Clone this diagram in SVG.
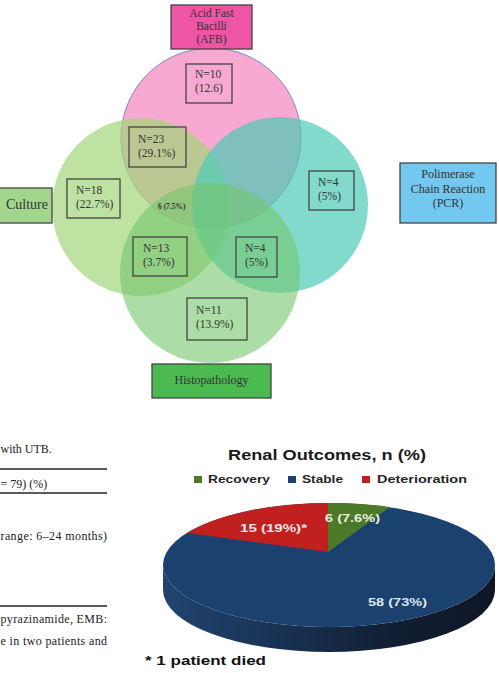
<svg xmlns="http://www.w3.org/2000/svg" width="499" height="673" viewBox="0 0 499 673">
<defs>
<style>
.vt{font-family:"Liberation Serif","Times New Roman",serif;font-size:11.5px;fill:#333;}
.box{fill:none;stroke:#444;stroke-width:1.3;}
.lbl{stroke:#444;stroke-width:1.3;}
.tt{font-family:"Liberation Serif","Times New Roman",serif;font-size:12px;fill:#222;}
.ps{font-family:"Liberation Sans",Arial,sans-serif;font-weight:bold;}
.rule{stroke:#222;stroke-width:1.3;}
</style>
<linearGradient id="side" x1="0" y1="0" x2="1" y2="0">
<stop offset="0" stop-color="#21446f"/>
<stop offset="0.35" stop-color="#183253"/>
<stop offset="0.7" stop-color="#121e33"/>
<stop offset="1" stop-color="#0e1626"/>
</linearGradient>
</defs>
<rect width="499" height="673" fill="#fff"/>

<g id="venn-circles">
<circle id="c-afb" cx="211" cy="138" r="90" fill="#f7a9d1" stroke="#6f7fbf" stroke-width="0.9"/>
<circle id="c-culture" cx="141" cy="207" r="89" fill="#a3d67a" fill-opacity="0.7"/>
<circle id="c-pcr" cx="280" cy="205" r="88" fill="#4ccab6" fill-opacity="0.7"/>
<circle id="c-histo" cx="210" cy="273" r="90" fill="#74c76c" fill-opacity="0.6"/>
</g>

<g id="afb-label">
<rect class="lbl" x="171" y="5" width="81" height="44" fill="#ee55a5"/>
<text class="vt" x="211.5" y="17" text-anchor="middle">Acid Fast</text>
<text class="vt" x="211.5" y="30" text-anchor="middle">Bacilli</text>
<text class="vt" x="211.5" y="43" text-anchor="middle">(AFB)</text>
</g>
<g id="culture-label">
<rect class="lbl" x="-2" y="188" width="54" height="35" fill="#a2d68c"/>
<text class="vt" x="27" y="209" text-anchor="middle" style="font-size:14px">Culture</text>
</g>
<g id="pcr-label">
<rect class="lbl" x="400" y="163" width="96" height="60" fill="#72c8ee"/>
<text class="vt" x="448" y="178" text-anchor="middle" style="font-size:12px">Polimerase</text>
<text class="vt" x="448" y="193" text-anchor="middle" style="font-size:12px">Chain Reaction</text>
<text class="vt" x="448" y="207" text-anchor="middle" style="font-size:12px">(PCR)</text>
</g>
<g id="histo-label">
<rect class="lbl" x="152" y="364" width="119" height="34" fill="#4cba50"/>
<text class="vt" x="211.5" y="384" text-anchor="middle" style="font-size:12px">Histopathology</text>
</g>

<g id="n10"><rect class="box" x="186" y="64" width="46" height="39"/>
<text class="vt" x="195" y="78">N=10</text><text class="vt" x="195" y="92">(12.6)</text></g>
<g id="n23"><rect class="box" x="129" y="127" width="57" height="40"/>
<text class="vt" x="138" y="143">N=23</text><text class="vt" x="138" y="157">(29.1%)</text></g>
<g id="n18"><rect class="box" x="67" y="179" width="53" height="39"/>
<text class="vt" x="76" y="194">N=18</text><text class="vt" x="76" y="208">(22.7%)</text></g>
<g id="n6"><text class="vt" x="158" y="209" style="font-size:7.5px;font-weight:bold">6 (7.5%)</text></g>
<g id="n4pcr"><rect class="box" x="309" y="171" width="45" height="39"/>
<text class="vt" x="318" y="186">N=4</text><text class="vt" x="318" y="200">(5%)</text></g>
<g id="n13"><rect class="box" x="133" y="237" width="54" height="39"/>
<text class="vt" x="143" y="252">N=13</text><text class="vt" x="143" y="266">(3.7%)</text></g>
<g id="n4hp"><rect class="box" x="236" y="237" width="41" height="40"/>
<text class="vt" x="245" y="252">N=4</text><text class="vt" x="245" y="266">(5%)</text></g>
<g id="n11"><rect class="box" x="187" y="298" width="60" height="42"/>
<text class="vt" x="196" y="314">N=11</text><text class="vt" x="196" y="328">(13.9%)</text></g>

<g id="table-fragment">
<text class="tt" x="0.5" y="453">with UTB.</text>
<line class="rule" x1="0" y1="469" x2="107" y2="469"/>
<text class="tt" x="0.5" y="488">= 79) (%)</text>
<line class="rule" x1="0" y1="493" x2="107" y2="493"/>
<text class="tt" x="0.5" y="540" textLength="106.5" lengthAdjust="spacing">range: 6–24 months)</text>
<line class="rule" x1="0" y1="606" x2="107" y2="606"/>
<text class="tt" x="0.5" y="623" textLength="106.5" lengthAdjust="spacing">pyrazinamide, EMB:</text>
<text class="tt" x="0.5" y="645" textLength="106.5" lengthAdjust="spacing">e in two patients and</text>
</g>

<g id="pie-chart">
<text class="ps" x="228" y="460" style="font-size:14.5px" fill="#1a1a1a" textLength="198" lengthAdjust="spacingAndGlyphs">Renal Outcomes, n (%)</text>
<rect x="194" y="476" width="8" height="7" fill="#4e7a2e"/>
<text class="ps" x="208" y="483" style="font-size:11px" fill="#262626" textLength="62" lengthAdjust="spacingAndGlyphs">Recovery</text>
<rect x="288" y="476" width="8" height="7" fill="#1c3f6e"/>
<text class="ps" x="302" y="483" style="font-size:11px" fill="#262626" textLength="41" lengthAdjust="spacingAndGlyphs">Stable</text>
<rect x="362" y="476" width="8" height="7" fill="#c0211e"/>
<text class="ps" x="377" y="483" style="font-size:11px" fill="#262626" textLength="90" lengthAdjust="spacingAndGlyphs">Deterioration</text>
<path d="M163,565 L163,590 A166 62 0 0 0 495,590 L495,565 A166 62 0 0 1 163,565 Z" fill="url(#side)"/>
<ellipse cx="329" cy="565" rx="166" ry="62" fill="#1b416e"/>
<path d="M328,552 L187,533 A166 62 0 0 1 328,503 Z" fill="#c0211e"/>
<path d="M328,552 L328,503 A166 62 0 0 1 390,507 Z" fill="#4a7a2a"/>
<text class="ps" x="240" y="532" style="font-size:11.5px" fill="#f4e4e4" textLength="67" lengthAdjust="spacingAndGlyphs">15 (19%)*</text>
<text class="ps" x="325" y="522" style="font-size:11.5px" fill="#eeeedd" textLength="55" lengthAdjust="spacingAndGlyphs">6 (7.6%)</text>
<text class="ps" x="368" y="606" style="font-size:11.5px" fill="#dde6f0" textLength="59" lengthAdjust="spacingAndGlyphs">58 (73%)</text>
<text class="ps" x="145" y="665" style="font-size:13.5px" fill="#111" textLength="121" lengthAdjust="spacingAndGlyphs">* 1 patient died</text>
</g>
</svg>
